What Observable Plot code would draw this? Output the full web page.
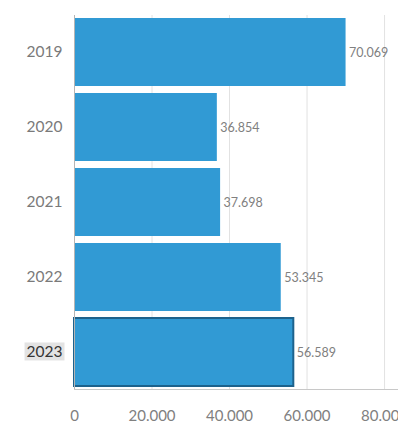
<!DOCTYPE html>
<html><head><meta charset="utf-8">
<script src="https://cdn.jsdelivr.net/npm/d3@7"></script>
<script src="https://cdn.jsdelivr.net/npm/@observablehq/plot@0.6"></script>
<style>body{margin:0;background:#fff;font-family:Lato,"Open Sans",sans-serif}</style>
</head><body><div id="chart"></div>
<script>
const years = ["2019","2020","2021","2022","2023"];
const values = [70069, 36854, 37698, 53345, 56589];
const xTicks = [0, 20000, 40000, 60000, 80000];
const highlighted = "2023";

const de = d3.formatLocale({decimal: ",", thousands: ".", grouping: [3], currency: ["", "€"]});
const fmt = de.format(",d");
const data = years.map((y, i) => ({year: y, value: values[i]}));

const chart = Plot.plot({
  width: 398, height: 428,
  marginLeft: 74, marginRight: 0, marginTop: 15, marginBottom: 39,
  style: {fontFamily: "Lato, 'Open Sans', sans-serif", background: "#fff"},
  x: {domain: [0, 83600], ticks: xTicks, tickFormat: d => fmt(d), label: null},
  y: {domain: years, label: null, paddingInner: 0.1, paddingOuter: 0.04},
  marks: [
    Plot.ruleX(xTicks.slice(1), {stroke: "#e2e2e2", strokeWidth: 1}),
    Plot.barX(data, {y: "year", x: "value", fill: "#319ad4",
      stroke: d => d.year === highlighted ? "#1d628c" : "none",
      strokeWidth: 2, inset: 0}),
    Plot.ruleX([0], {stroke: "#b5b5b5"}),
    Plot.text(data, {y: "year", x: "value", text: d => fmt(d.value), dx: 3,
      textAnchor: "start", fill: "#808080", fontSize: 12.5}),
    Plot.axisX({ticks: xTicks, tickFormat: d => fmt(d), tickSize: 0, tickPadding: 21,
      fontSize: 15, color: "#808080"}),
    Plot.axisY({tickSize: 0, tickPadding: 12, fontSize: 15.5, color: "#7a7a7a"})
  ]
});
document.getElementById("chart").appendChild(chart);

const svg = d3.select(chart);
const xs = chart.scale("x");
// bottom baseline
svg.append("line").attr("x1", xs.apply(0)).attr("x2", 398)
  .attr("y1", 389.5).attr("y2", 389.5).attr("stroke", "#c8c8c8");

// highlight the selected year label
svg.selectAll("text").each(function() {
  if (this.textContent === highlighted && this.closest("[aria-label='y-axis tick label']")) {
    const b = this.getBBox();
    d3.select(this.parentNode).insert("rect", () => this)
      .attr("transform", this.getAttribute("transform"))
      .attr("x", b.x - 2).attr("y", b.y).attr("width", b.width + 4).attr("height", b.height)
      .attr("fill", "#e3e3e3");
    d3.select(this).attr("fill", "#333");
  }
});
</script></body></html>
